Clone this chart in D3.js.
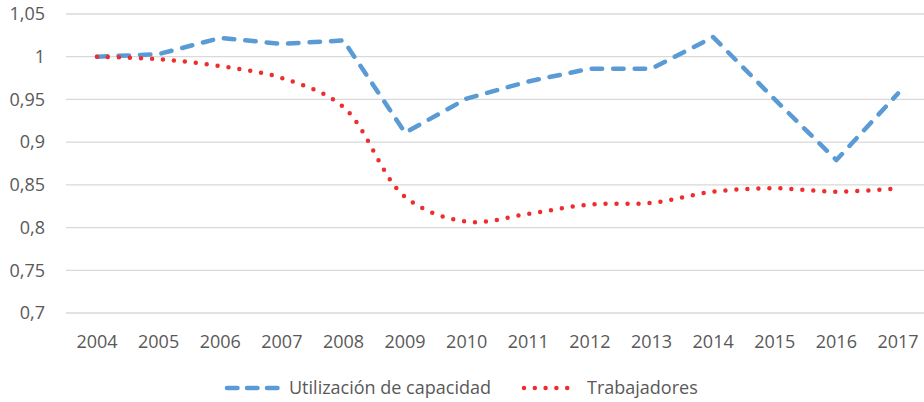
<!DOCTYPE html>
<html><head><meta charset="utf-8">
<script src="https://cdn.jsdelivr.net/npm/d3@7"></script>
<style>body{margin:0;background:#fff}svg{display:block}text{font-family:"Open Sans",sans-serif;fill:#595959}</style>
</head><body><svg id="c" width="924" height="402"></svg>
<script>
const years = ["2004","2005","2006","2007","2008","2009","2010","2011","2012","2013","2014","2015","2016","2017"];
const capacidad = [1.000,1.003,1.022,1.015,1.019,0.911,0.951,0.971,0.986,0.986,1.023,0.950,0.879,0.957];
const trabajadores = [1.000,0.997,0.989,0.975,0.941,0.836,0.807,0.816,0.827,0.829,0.842,0.846,0.842,0.846];
const yTicks = [0.7,0.75,0.8,0.85,0.9,0.95,1,1.05];
const seriesNames = ["Utilización de capacidad","Trabajadores"];

const svg = d3.select("#c");
const x = d3.scaleBand().domain(years).range([66.2, 928.8]);
const y = d3.scaleLinear().domain([0.7,1.05]).range([313,14]);
const fmt = v => String(v).replace(".", ",");

svg.append("g").selectAll("line").data(yTicks).join("line")
  .attr("x1",66).attr("x2",924).attr("y1",d=>y(d)).attr("y2",d=>y(d))
  .attr("stroke","#D9D9D9").attr("stroke-width",1.3);
svg.append("g").selectAll("text").data(yTicks).join("text")
  .attr("x",45).attr("y",d=>y(d)).attr("dy","0.35em").attr("text-anchor","end")
  .attr("font-size",18).text(fmt);
svg.append("g").selectAll("text").data(years).join("text")
  .attr("x",d=>x(d)+x.bandwidth()/2).attr("y",342).attr("dy","0.35em").attr("text-anchor","middle")
  .attr("font-size",18).text(d=>d);

const cx = (d,i) => x(years[i]) + x.bandwidth()/2;
const lineBlue = d3.line().x(cx).y(d=>y(d));
const lineRed = d3.line().x(cx).y(d=>y(d)).curve(d3.curveCatmullRom.alpha(0.5));

svg.append("path").datum(capacidad).attr("d",lineBlue).attr("fill","none")
  .attr("stroke","#5B9BD5").attr("stroke-width",4.5).attr("stroke-linecap","round")
  .attr("stroke-linejoin","round").attr("stroke-dasharray","10.5,11");
svg.append("path").datum(trabajadores).attr("d",lineRed).attr("fill","none")
  .attr("stroke","#EE2D2D").attr("stroke-width",4.5).attr("stroke-linecap","round")
  .attr("stroke-dasharray","0,11");

// legend
const lg = svg.append("g");
lg.append("line").attr("x1",227).attr("x2",278).attr("y1",388).attr("y2",388)
  .attr("stroke","#5B9BD5").attr("stroke-width",4.5).attr("stroke-linecap","round").attr("stroke-dasharray","10.5,9.5");
lg.append("text").attr("x",289).attr("y",388).attr("dy","0.35em").attr("font-size",18).text(seriesNames[0]);
lg.append("line").attr("x1",524).attr("x2",578).attr("y1",388).attr("y2",388)
  .attr("stroke","#EE2D2D").attr("stroke-width",4.5).attr("stroke-linecap","round").attr("stroke-dasharray","0,10.8");
lg.append("text").attr("x",587).attr("y",388).attr("dy","0.35em").attr("font-size",18).text(seriesNames[1]);
</script></body></html>
